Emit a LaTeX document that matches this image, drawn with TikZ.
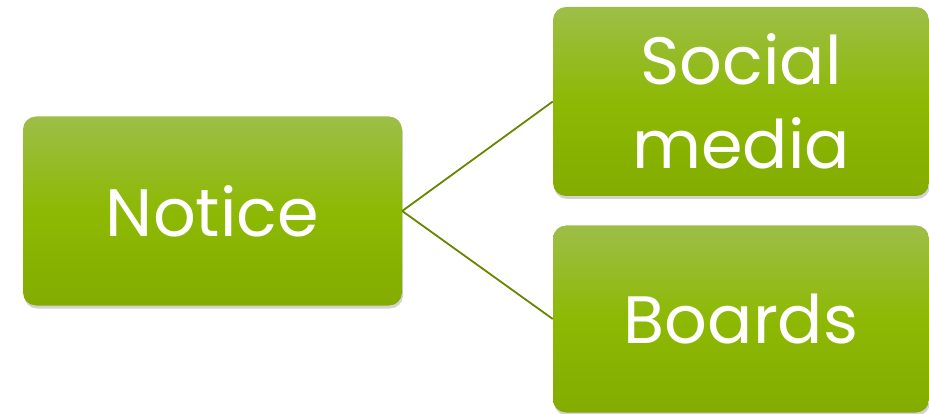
\documentclass[tikz,border=0pt]{standalone}
\usepackage{fontspec}
\usepackage{xcolor}
\usepackage{tikz}
\usetikzlibrary{shadows,positioning}
\newfontfamily\boxfont{Poppins}
\definecolor{leaftop}{RGB}{157,190,72}
\definecolor{leafmid}{RGB}{141,185,4}
\definecolor{leafbot}{RGB}{131,172,0}
\definecolor{leafline}{RGB}{104,134,0}

\begin{document}
\begin{tikzpicture}[
    x=1pt, y=1pt,
    leaf/.style={rectangle, rounded corners=13pt, draw=none,
        top color=leaftop, bottom color=leafbot, middle color=leafmid,
        drop shadow={shadow xshift=1pt, shadow yshift=-3pt, opacity=0.35},
        text=white, align=center, inner sep=0pt,
        font=\boxfont\fontsize{67}{84}\selectfont},
    link/.style={leafline, line width=1.8pt}
]
\useasboundingbox (0,0) rectangle (929,-414);

% Boxes
\node[leaf, minimum width=379pt, minimum height=189pt] (notice) at (212.5,-211) {Notice};
\node[leaf, minimum width=376pt, minimum height=189pt] (social) at (741,-101.5) {Social\\media};
\node[leaf, minimum width=376pt, minimum height=187pt] (boards) at (741,-319) {Boards};

% Links
\draw[link] (notice.east) -- (social.west);
\draw[link] (notice.east) -- (boards.west);

\end{tikzpicture}
\end{document}
